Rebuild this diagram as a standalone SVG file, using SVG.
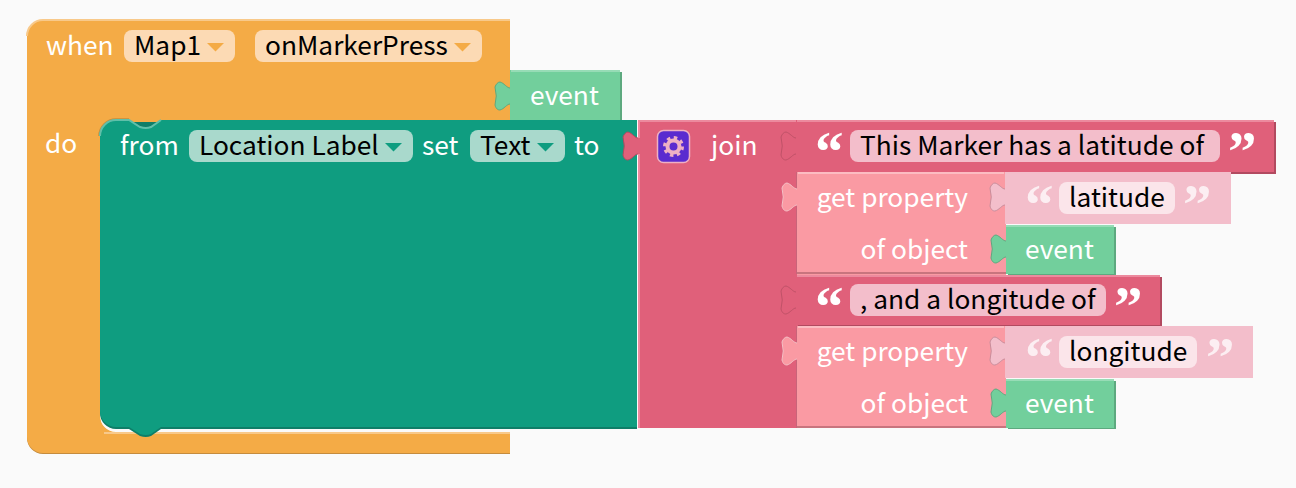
<svg xmlns="http://www.w3.org/2000/svg" width="1296" height="488" viewBox="0 0 1296 488">
<style>
text{font-family:"Noto Sans CJK SC","Noto Sans",sans-serif;font-size:26.300px}
.w{fill:#fff}.k{fill:#000}.e{text-anchor:end}
.q{font-family:"Liberation Serif",serif;font-weight:700;font-size:57px;fill:#fff}
.ql{opacity:.75}
.hl{fill:none;stroke-width:2}
.sh{fill:none;stroke-width:2}
.tab{fill:none;stroke-width:1}
</style>
<rect width="1296" height="488" fill="#fafafa"/>
<g id="when-block">
<path d="M27,38a16,16 0 0 1 16,-16H510V121H116a16,16 0 0 0 -16,16V417a16,16 0 0 0 16,16H510V454H43a16,16 0 0 1 -16,-16Z" fill="#c58c3d"/>
<path d="M27,36a16,16 0 0 1 16,-16H510V120H165l-14,10h-11l-14,-10H116a16,16 0 0 0 -16,16V416a16,16 0 0 0 16,16H510V453H43a16,16 0 0 1 -16,-16Z" fill="#f4ab46"/>
<path class="hl" stroke="#f8c98a" d="M27,36a16,16 0 0 1 16,-16H510M104,433H510"/>
<path d="M99,136a17,17 0 0 1 17,-17H129" fill="none" stroke="#c58c3d" stroke-width="1.500"/>
<text class="w" x="46" y="55">when</text>
<rect x="124" y="30" width="111" height="32" rx="8" fill="#fcdab4"/>
<text class="k" x="134" y="55">Map1</text>
<path d="M207,43h17l-8.500,8.500Z" fill="#f4ab46"/>
<rect x="255" y="30" width="227" height="32" rx="8" fill="#fcdab4"/>
<text class="k" x="265" y="55">onMarkerPress</text>
<path d="M454,43h17l-8.500,8.500Z" fill="#f4ab46"/>
<text class="w" x="45" y="153">do</text>
</g>
<g id="event-top">
<path d="M512,72H622V121H512Z" fill="#5da97f"/>
<path d="M510,70H620V120H510V104c-3,0 -6,5 -10,6c-2,0 -4,-1 -5,-5q2.500,-9 0,-18c1,-3 3,-5 5,-5c4,1 7,6 10,6Z" fill="#72cf9c"/>
<path class="hl" stroke="#97dcb6" d="M511,71H620"/>
<path class="tab" stroke="#5da97f" d="M510,104c-3,0 -6,5 -10,6c-2,0 -4,-1 -5,-5q2.500,-9 0,-18c1,-3 3,-5 5,-5c4,1 7,6 10,6"/>
<text class="w" x="530" y="105">event</text>
</g>
<g id="set-block">
<path d="M100,138a16,16 0 0 1 16,-16H637V429H161l-10,7q-5,2 -11,0l-11,-7H116a16,16 0 0 1 -16,-16Z" fill="#0f7e68"/>
<path d="M100,136a16,16 0 0 1 16,-16H129l11,7q6,2 11,0l10,-7H637V427H161l-10,7q-5,2 -11,0l-11,-7H116a16,16 0 0 1 -16,-16Z" fill="#0f9d80"/>
<path class="hl" stroke="#5fbfa9" d="M100,136a16,16 0 0 1 16,-16H129l11,7q6,2 11,0l10,-7" stroke-width="1"/>
<text class="w" x="120" y="155">from</text>
<rect x="189" y="130" width="224" height="32" rx="8" fill="#a9d9cc"/>
<text class="k" x="199" y="155">Location Label</text>
<path d="M385,143h17l-8.500,8.500Z" fill="#0f9d80"/>
<text class="w" x="422" y="155">set</text>
<rect x="470" y="130" width="95" height="32" rx="8" fill="#a9d9cc"/>
<text class="k" x="480" y="155">Text</text>
<path d="M537,143h17l-8.500,8.500Z" fill="#0f9d80"/>
<text class="w" x="574" y="155">to</text>
</g>
<g id="join-block">
<path d="M638,120H798V428H638V154c-3,0 -6,5 -10,6c-2,0 -4,-1 -5,-5q2.500,-9 0,-18c1,-3 3,-5 5,-5c4,1 7,6 10,6Z" fill="#e0607a"/>
<path class="hl" stroke="#ec8a9e" d="M638,121H796M639,120V138M639,154V428"/>
<path class="tab" stroke="#b24a60" d="M638,154c-3,0 -6,5 -10,6c-2,0 -4,-1 -5,-5q2.500,-9 0,-18c1,-3 3,-5 5,-5c4,1 7,6 10,6"/>
<rect x="657.500" y="130.500" width="32" height="32" rx="6" fill="#5a2bcf" stroke="#eeb0c4" stroke-width="1.500"/>
<circle cx="673.500" cy="146.500" r="6" fill="none" stroke="#eeb0c4" stroke-width="4"/>
<circle cx="673.500" cy="146.500" r="9" fill="none" stroke="#eeb0c4" stroke-width="3" stroke-dasharray="3.500 3.570"/>
<text class="w" x="711" y="155">join</text>
</g>
<g id="text-latitude-of">
<path d="M798,122H1276V174H798Z" fill="#b24a60"/>
<path d="M796,120H1274V172H796V154c-3,0 -6,5 -10,6c-2,0 -4,-1 -5,-5q2.500,-9 0,-18c1,-3 3,-5 5,-5c4,1 7,6 10,6Z" fill="#e0607a"/>
<path class="hl" stroke="#ec8a9e" d="M797,121H1274"/>
<path class="tab" stroke="#c05268" d="M796,154c-3,0 -6,5 -10,6c-2,0 -4,-1 -5,-5q2.500,-9 0,-18c1,-3 3,-5 5,-5c4,1 7,6 10,6"/>
<text class="q" x="815" y="171">“</text>
<rect x="850" y="130" width="370" height="32" rx="8" fill="#f3becb"/>
<text class="k" x="860" y="155">This Marker has a latitude of</text>
<text class="q" x="1228" y="171">”</text>
</g>
<g id="get-latitude">
<path d="M797,172H1006V276H797V205c-3,0 -6,5 -10,6c-2,0 -4,-1 -5,-5q2.500,-9 0,-18c1,-3 3,-5 5,-5c4,1 7,6 10,6Z" fill="#fa9aa3"/>
<path class="hl" stroke="#fcbcc2" d="M798,173H1004"/>
<path class="sh" stroke="#c8747e" d="M797,273H1006"/>
<path d="M796.500,172V189M796.500,205V274" stroke="#c8647a" fill="none"/>
<path class="tab" stroke="#f4c1c6" d="M797,205c-3,0 -6,5 -10,6c-2,0 -4,-1 -5,-5q2.500,-9 0,-18c1,-3 3,-5 5,-5c4,1 7,6 10,6"/>
<text class="w e" x="968" y="207">get property</text>
<text class="w e" x="968" y="259">of object</text>
</g>
<g id="lit-value">
<path d="M1005,172H1231V224H1005V205c-3,0 -6,5 -10,6c-2,0 -4,-1 -5,-5q2.500,-9 0,-18c1,-3 3,-5 5,-5c4,1 7,6 10,6Z" fill="#f3becb"/>
<path class="tab" stroke="#c98e9c" d="M1005,205c-3,0 -6,5 -10,6c-2,0 -4,-1 -5,-5q2.500,-9 0,-18c1,-3 3,-5 5,-5c4,1 7,6 10,6"/>
<text class="q ql" x="1025" y="224">“</text>
<rect x="1059" y="182" width="116" height="32" rx="8" fill="#fbe5ea"/>
<text class="k" x="1069" y="207">latitude</text>
<text class="q ql" x="1183" y="224">”</text>
</g>
<g id="event-1">
<path d="M1008,227H1116V275H1008Z" fill="#5da97f"/>
<path d="M1006,225H1114V274H1006V257c-3,0 -6,5 -10,6c-2,0 -4,-1 -5,-5q2.500,-9 0,-18c1,-3 3,-5 5,-5c4,1 7,6 10,6Z" fill="#72cf9c"/>
<path class="tab" stroke="#5da97f" d="M1006,257c-3,0 -6,5 -10,6c-2,0 -4,-1 -5,-5q2.500,-9 0,-18c1,-3 3,-5 5,-5c4,1 7,6 10,6"/>
<path class="hl" stroke="#97dcb6" d="M1006,226H1114"/>
<text class="w" x="1025" y="259">event</text>
</g>
<g id="text-longitude-of">
<path d="M798,277H1162V327H798Z" fill="#b24a60"/>
<path d="M796,275H1160V325H796V308c-3,0 -6,5 -10,6c-2,0 -4,-1 -5,-5q2.500,-9 0,-18c1,-3 3,-5 5,-5c4,1 7,6 10,6Z" fill="#e0607a"/>
<path class="hl" stroke="#ec8a9e" d="M797,276H1160"/>
<path class="tab" stroke="#c05268" d="M796,308c-3,0 -6,5 -10,6c-2,0 -4,-1 -5,-5q2.500,-9 0,-18c1,-3 3,-5 5,-5c4,1 7,6 10,6"/>
<text class="q" x="815" y="326">“</text>
<rect x="850" y="284" width="256" height="32" rx="8" fill="#f3becb"/>
<text class="k" x="860" y="309">, and a longitude of</text>
<text class="q" x="1114" y="326">”</text>
</g>
<g id="get-longitude">
<path d="M797,326H1006V428H797V359c-3,0 -6,5 -10,6c-2,0 -4,-1 -5,-5q2.500,-9 0,-18c1,-3 3,-5 5,-5c4,1 7,6 10,6Z" fill="#fa9aa3"/>
<path class="hl" stroke="#fcbcc2" d="M798,327H1004"/>
<path class="sh" stroke="#c8747e" d="M797,427H1006"/>
<path d="M796.500,326V343M796.500,359V428" stroke="#c8647a" fill="none"/>
<path class="tab" stroke="#f4c1c6" d="M797,359c-3,0 -6,5 -10,6c-2,0 -4,-1 -5,-5q2.500,-9 0,-18c1,-3 3,-5 5,-5c4,1 7,6 10,6"/>
<text class="w e" x="968" y="361">get property</text>
<text class="w e" x="968" y="413">of object</text>
</g>
<g id="lon-value">
<path d="M1005,326H1253V378H1005V359c-3,0 -6,5 -10,6c-2,0 -4,-1 -5,-5q2.500,-9 0,-18c1,-3 3,-5 5,-5c4,1 7,6 10,6Z" fill="#f3becb"/>
<path class="tab" stroke="#c98e9c" d="M1005,359c-3,0 -6,5 -10,6c-2,0 -4,-1 -5,-5q2.500,-9 0,-18c1,-3 3,-5 5,-5c4,1 7,6 10,6"/>
<text class="q ql" x="1025" y="377">“</text>
<rect x="1059" y="336" width="138" height="32" rx="8" fill="#fbe5ea"/>
<text class="k" x="1069" y="361">longitude</text>
<text class="q ql" x="1206" y="377">”</text>
</g>
<g id="event-2">
<path d="M1008,381H1116V429H1008Z" fill="#5da97f"/>
<path d="M1006,379H1114V428H1006V411c-3,0 -6,5 -10,6c-2,0 -4,-1 -5,-5q2.500,-9 0,-18c1,-3 3,-5 5,-5c4,1 7,6 10,6Z" fill="#72cf9c"/>
<path class="tab" stroke="#5da97f" d="M1006,411c-3,0 -6,5 -10,6c-2,0 -4,-1 -5,-5q2.500,-9 0,-18c1,-3 3,-5 5,-5c4,1 7,6 10,6"/>
<path class="hl" stroke="#97dcb6" d="M1006,380H1114"/>
<text class="w" x="1025" y="413">event</text>
</g>
</svg>
